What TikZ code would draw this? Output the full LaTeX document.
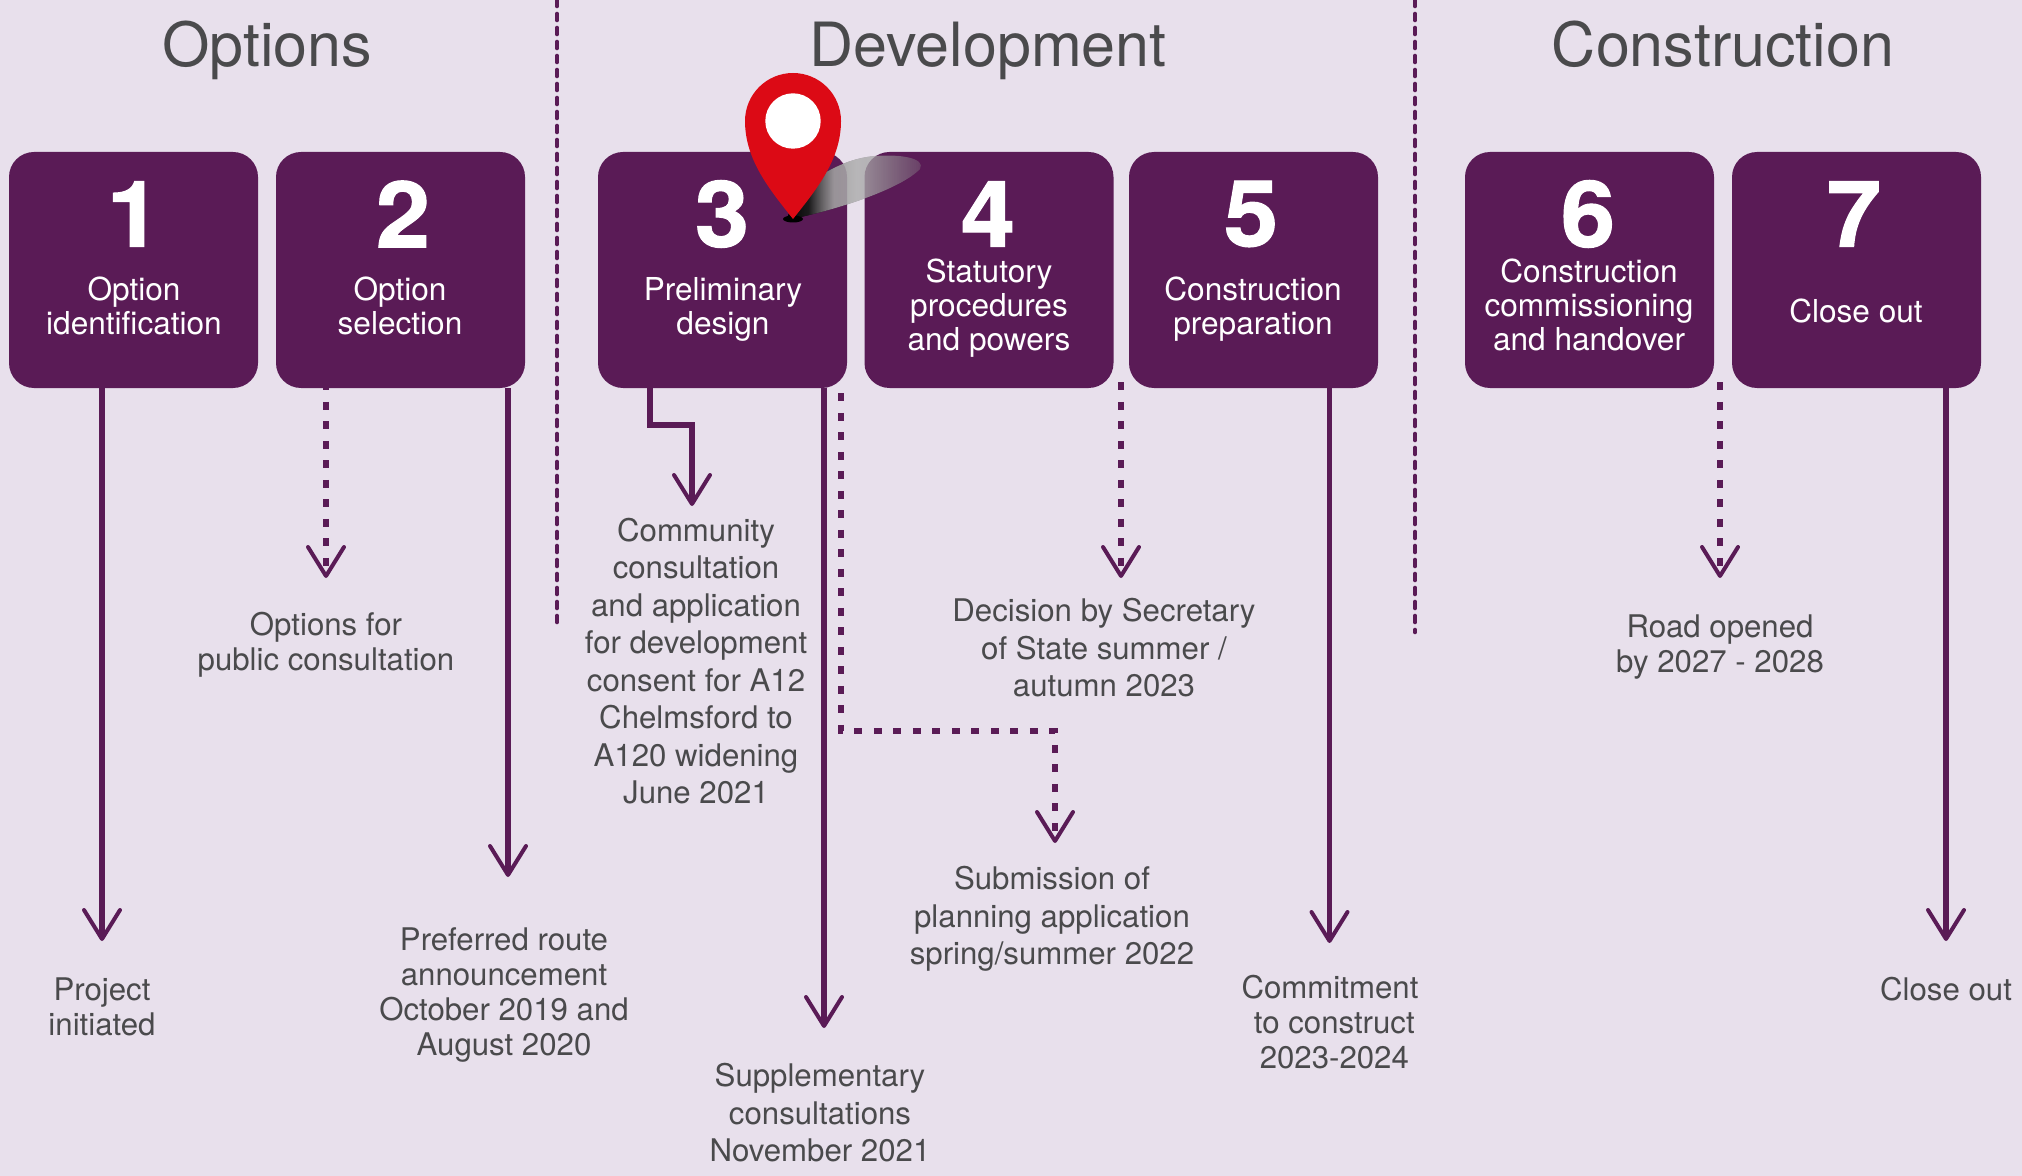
\documentclass[tikz,border=0pt]{standalone}
\usepackage{fontspec}
\setmainfont{TeX Gyre Heros}
\newfontfamily\numfont[BoldFeatures={FakeBold=1.2,FakeStretch=1.06}]{TeX Gyre Heros}
\usetikzlibrary{arrows.meta,fadings,calc}
\definecolor{bgc}{HTML}{E8E0EC}
\definecolor{plum}{HTML}{5A1B56}
\definecolor{txtc}{HTML}{4A4A4C}
\definecolor{pinred}{HTML}{DC0A15}
\tikzfading[name=pinfade,left color=transparent!0,middle color=transparent!70,right color=transparent!85]
\pgfdeclarehorizontalshading{pinshade}{100bp}{rgb(0bp)=(0,0,0); rgb(25bp)=(0,0,0); rgb(33bp)=(.12,.12,.12); rgb(42bp)=(.8,.8,.8); rgb(50bp)=(.97,.97,.97); rgb(75bp)=(1,1,1); rgb(100bp)=(1,1,1)}
\tikzset{
  stage/.style={fill=plum,rounded corners=12.5pt,minimum width=124.5pt,minimum height=118pt,inner sep=0pt},
  numeral/.style={text=white,font=\fontsize{46}{46}\numfont\bfseries,inner sep=0pt},
  stagelabel/.style={text=white,align=center,inner sep=0pt,font=\fontsize{15.8}{17}\selectfont},
  heading/.style={text=txtc,inner sep=0pt,anchor=base,font=\fontsize{30.5}{34}\selectfont},
  note/.style={text=txtc,align=center,inner sep=0pt,font=\fontsize{15.6}{17.5}\selectfont},
  widenote/.style={text=txtc,align=center,inner sep=0pt,font=\fontsize{15.6}{18.75}\selectfont},
  solidarrow/.style={draw=plum,line width=2.7pt,-{Straight Barb[round,length=14.5pt,width=18pt,line width=2pt]}},
  dotarrow/.style={solidarrow,dash pattern=on 4pt off 5.75pt},
  divider/.style={draw=plum,line width=2.3pt,line cap=round,dash pattern=on 3pt off 4pt}
}
\begin{document}
\begin{tikzpicture}[x=0.5pt,y=-0.5pt]
\useasboundingbox[fill=bgc] (0,0) rectangle (2022,1176);
% headings
\node[heading] (hOptions) at (267,67) {Options};
\node[heading] (hDevelopment) at (988,67) {Development};
\node[heading] (hConstruction) at (1723,67) {Construction};
% dividers
\coordinate (d1a) at (557,0); \coordinate (d1b) at (557,622);
\coordinate (d2a) at (1415,0); \coordinate (d2b) at (1415,632);
\draw[divider] (d1a) -- (d1b);
\draw[divider] (d2a) -- (d2b);
% stage boxes
\node[stage] (b1) at (133.5,270) {};
\node[stage] (b2) at (400.5,270) {};
\node[stage] (b3) at (722.5,270) {};
\node[stage] (b4) at (989,270) {};
\node[stage] (b5) at (1253.5,270) {};
\node[stage] (b6) at (1589.5,270) {};
\node[stage] (b7) at (1856.5,270) {};
% numerals
\node[numeral] (n1) at (134,214) {1};
\node[numeral] (n2) at (403,214) {2};
\node[numeral] (n3) at (722,214) {3};
\node[numeral] (n4) at (988,214) {4};
\node[numeral] (n5) at (1251,214) {5};
\node[numeral] (n6) at (1588,214) {6};
\node[numeral] (n7) at (1854,214) {7};
% labels
\node[stagelabel] (l1) at (134,306) {Option\\identification};
\node[stagelabel] (l2) at (400,306) {Option\\selection};
\node[stagelabel] (l3) at (723,309) {Preliminary\\design};
\node[stagelabel] (l4) at (989,308) {Statutory\\procedures\\and powers};
\node[stagelabel] (l5) at (1253,309) {Construction\\preparation};
\node[stagelabel] (l6) at (1589,305) {Construction\\commissioning\\and handover};
\node[stagelabel] (l7) at (1856,311) {Close out};
% arrow ends
\coordinate (t1) at (102,941);
\coordinate (t2a) at (326,578);
\coordinate (t2b) at (508,877);
\coordinate (s3a) at (650,425);
\coordinate (t3a) at (692,506);
\coordinate (t3b) at (824,1028);
\coordinate (s3c) at (841,731);
\coordinate (t3c) at (1055,843);
\coordinate (t4) at (1121,578);
\coordinate (t5) at (1329.5,943);
\coordinate (t6) at (1720,578);
\coordinate (t7) at (1946,941);
% connectors
\draw[solidarrow] (b1.south -| t1) -- (t1);
\draw[dotarrow] ($(b2.south -| t2a)+(0,-6)$) -- (t2a);
\draw[solidarrow] (b2.south -| t2b) -- (t2b);
\draw[solidarrow] (b3.south -| s3a) -- (s3a) -- (s3a -| t3a) -- (t3a);
\draw[solidarrow] (b3.south -| t3b) -- (t3b);
\draw[dotarrow] ($(b3.south -| s3c)+(0,5)$) -- (s3c) -- (s3c -| t3c) -- (t3c);
\draw[dotarrow] ($(b4.south -| t4)+(0,-6)$) -- (t4);
\draw[solidarrow] (b5.south -| t5) -- (t5);
\draw[dotarrow] ($(b6.south -| t6)+(0,-6)$) -- (t6);
\draw[solidarrow] (b7.south -| t7) -- (t7);
% notes
\node[note] (a1) at (102,1007) {Project\\initiated};
\node[note] (a2) at (326,645) {Options for\\public consultation};
\node[note] (a3) at (504,995) {Preferred route\\announcement\\October 2019 and\\August 2020};
\node[widenote] (a4) at (696,661) {Community\\consultation\\and application\\for development\\consent for A12\\Chelmsford to\\A120 widening\\June 2021};
\node[widenote] (a5) at (820,1113) {Supplementary\\consultations\\November 2021};
\node[widenote] (a6) at (1104,648) {Decision by Secretary\\of State summer /\\autumn 2023};
\node[widenote] (a7) at (1052,919) {Submission of\\planning application\\spring/summer 2022};
\node[note] (a8) at (1330,1022) {Commitment\\\ to construct\\\ 2023-2024};
\node[note] (a9) at (1720,647) {Road opened\\by 2027 - 2028};
\node[note] (a10) at (1946,989) {Close out};
% location pin
\fill[shading=pinshade,path fading=pinfade,fit fading=true]
  (786,220) .. controls (830,212) and (900,190) .. (920,169)
  .. controls (926,158) and (900,154) .. (875,156)
  .. controls (850,158) and (825,170) .. (800,190) -- cycle;
\fill[black] (793,219) ellipse (10 and 3.5);
\fill[pinred] (793,219) .. controls (770,190) and (745,160) .. (745,121)
  arc[start angle=180,end angle=360,radius=48]
  .. controls (841,160) and (816,190) .. (793,219) -- cycle;
\fill[white] (793,121) circle[radius=27.7];
\end{tikzpicture}
\end{document}
